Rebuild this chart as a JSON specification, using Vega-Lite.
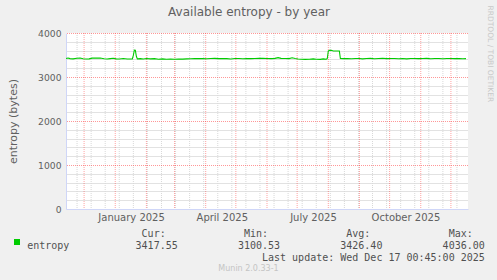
{
  "$schema": "https://vega.github.io/schema/vega-lite/v6.json",
  "width": 402,
  "height": 176,
  "autosize": {"type": "none"},
  "padding": {"left": 66, "top": 33, "right": 29, "bottom": 71},
  "background": "#f0f0f0",
  "config": {"view": {"stroke": null, "fill": "#ffffff"}},
  "title": {"text": "Munin 2.0.33-1", "orient": "bottom", "anchor": "middle", "frame": "group", "fontSize": 8, "font": "DejaVu Sans", "fontWeight": "normal", "color": "#c4c4c4", "dx": -18.5, "offset": 2},
  "datasets": {
    "series": [
      {"date": "2024-11-13", "value": 3422, "series": "entropy"},
      {"date": "2024-11-15", "value": 3432, "series": "entropy"},
      {"date": "2024-11-17", "value": 3418, "series": "entropy"},
      {"date": "2024-11-20", "value": 3412, "series": "entropy"},
      {"date": "2024-11-24", "value": 3426, "series": "entropy"},
      {"date": "2024-11-27", "value": 3430, "series": "entropy"},
      {"date": "2024-11-30", "value": 3414, "series": "entropy"},
      {"date": "2024-12-03", "value": 3410, "series": "entropy"},
      {"date": "2024-12-06", "value": 3412, "series": "entropy"},
      {"date": "2024-12-09", "value": 3428, "series": "entropy"},
      {"date": "2024-12-13", "value": 3430, "series": "entropy"},
      {"date": "2024-12-17", "value": 3430, "series": "entropy"},
      {"date": "2024-12-21", "value": 3414, "series": "entropy"},
      {"date": "2024-12-24", "value": 3410, "series": "entropy"},
      {"date": "2024-12-27", "value": 3418, "series": "entropy"},
      {"date": "2024-12-30", "value": 3426, "series": "entropy"},
      {"date": "2025-01-02", "value": 3412, "series": "entropy"},
      {"date": "2025-01-05", "value": 3410, "series": "entropy"},
      {"date": "2025-01-09", "value": 3420, "series": "entropy"},
      {"date": "2025-01-13", "value": 3408, "series": "entropy"},
      {"date": "2025-01-16", "value": 3408, "series": "entropy"},
      {"date": "2025-01-18", "value": 3410, "series": "entropy"},
      {"date": "2025-01-19", "value": 3490, "series": "entropy"},
      {"date": "2025-01-20", "value": 3612, "series": "entropy"},
      {"date": "2025-01-21", "value": 3608, "series": "entropy"},
      {"date": "2025-01-22", "value": 3470, "series": "entropy"},
      {"date": "2025-01-23", "value": 3412, "series": "entropy"},
      {"date": "2025-01-26", "value": 3418, "series": "entropy"},
      {"date": "2025-01-29", "value": 3408, "series": "entropy"},
      {"date": "2025-02-01", "value": 3420, "series": "entropy"},
      {"date": "2025-02-05", "value": 3412, "series": "entropy"},
      {"date": "2025-02-09", "value": 3418, "series": "entropy"},
      {"date": "2025-02-13", "value": 3405, "series": "entropy"},
      {"date": "2025-02-17", "value": 3412, "series": "entropy"},
      {"date": "2025-02-21", "value": 3404, "series": "entropy"},
      {"date": "2025-02-25", "value": 3410, "series": "entropy"},
      {"date": "2025-03-01", "value": 3402, "series": "entropy"},
      {"date": "2025-03-05", "value": 3410, "series": "entropy"},
      {"date": "2025-03-09", "value": 3406, "series": "entropy"},
      {"date": "2025-03-13", "value": 3412, "series": "entropy"},
      {"date": "2025-03-17", "value": 3416, "series": "entropy"},
      {"date": "2025-03-21", "value": 3420, "series": "entropy"},
      {"date": "2025-03-25", "value": 3418, "series": "entropy"},
      {"date": "2025-03-29", "value": 3422, "series": "entropy"},
      {"date": "2025-04-02", "value": 3416, "series": "entropy"},
      {"date": "2025-04-06", "value": 3420, "series": "entropy"},
      {"date": "2025-04-10", "value": 3424, "series": "entropy"},
      {"date": "2025-04-14", "value": 3418, "series": "entropy"},
      {"date": "2025-04-18", "value": 3420, "series": "entropy"},
      {"date": "2025-04-22", "value": 3418, "series": "entropy"},
      {"date": "2025-04-26", "value": 3410, "series": "entropy"},
      {"date": "2025-04-30", "value": 3420, "series": "entropy"},
      {"date": "2025-05-04", "value": 3422, "series": "entropy"},
      {"date": "2025-05-08", "value": 3416, "series": "entropy"},
      {"date": "2025-05-12", "value": 3422, "series": "entropy"},
      {"date": "2025-05-16", "value": 3418, "series": "entropy"},
      {"date": "2025-05-20", "value": 3422, "series": "entropy"},
      {"date": "2025-05-24", "value": 3424, "series": "entropy"},
      {"date": "2025-05-28", "value": 3426, "series": "entropy"},
      {"date": "2025-06-01", "value": 3420, "series": "entropy"},
      {"date": "2025-06-05", "value": 3418, "series": "entropy"},
      {"date": "2025-06-09", "value": 3424, "series": "entropy"},
      {"date": "2025-06-12", "value": 3440, "series": "entropy"},
      {"date": "2025-06-15", "value": 3424, "series": "entropy"},
      {"date": "2025-06-19", "value": 3420, "series": "entropy"},
      {"date": "2025-06-23", "value": 3418, "series": "entropy"},
      {"date": "2025-06-26", "value": 3436, "series": "entropy"},
      {"date": "2025-06-29", "value": 3422, "series": "entropy"},
      {"date": "2025-07-02", "value": 3410, "series": "entropy"},
      {"date": "2025-07-05", "value": 3402, "series": "entropy"},
      {"date": "2025-07-09", "value": 3400, "series": "entropy"},
      {"date": "2025-07-13", "value": 3404, "series": "entropy"},
      {"date": "2025-07-17", "value": 3412, "series": "entropy"},
      {"date": "2025-07-20", "value": 3402, "series": "entropy"},
      {"date": "2025-07-24", "value": 3400, "series": "entropy"},
      {"date": "2025-07-27", "value": 3412, "series": "entropy"},
      {"date": "2025-07-30", "value": 3404, "series": "entropy"},
      {"date": "2025-07-31", "value": 3420, "series": "entropy"},
      {"date": "2025-08-01", "value": 3590, "series": "entropy"},
      {"date": "2025-08-02", "value": 3608, "series": "entropy"},
      {"date": "2025-08-04", "value": 3606, "series": "entropy"},
      {"date": "2025-08-06", "value": 3592, "series": "entropy"},
      {"date": "2025-08-09", "value": 3590, "series": "entropy"},
      {"date": "2025-08-12", "value": 3592, "series": "entropy"},
      {"date": "2025-08-13", "value": 3420, "series": "entropy"},
      {"date": "2025-08-16", "value": 3418, "series": "entropy"},
      {"date": "2025-08-20", "value": 3420, "series": "entropy"},
      {"date": "2025-08-24", "value": 3416, "series": "entropy"},
      {"date": "2025-08-28", "value": 3422, "series": "entropy"},
      {"date": "2025-09-01", "value": 3420, "series": "entropy"},
      {"date": "2025-09-04", "value": 3412, "series": "entropy"},
      {"date": "2025-09-08", "value": 3420, "series": "entropy"},
      {"date": "2025-09-12", "value": 3424, "series": "entropy"},
      {"date": "2025-09-16", "value": 3414, "series": "entropy"},
      {"date": "2025-09-20", "value": 3420, "series": "entropy"},
      {"date": "2025-09-24", "value": 3426, "series": "entropy"},
      {"date": "2025-09-28", "value": 3418, "series": "entropy"},
      {"date": "2025-10-02", "value": 3420, "series": "entropy"},
      {"date": "2025-10-06", "value": 3422, "series": "entropy"},
      {"date": "2025-10-10", "value": 3416, "series": "entropy"},
      {"date": "2025-10-14", "value": 3420, "series": "entropy"},
      {"date": "2025-10-18", "value": 3412, "series": "entropy"},
      {"date": "2025-10-22", "value": 3420, "series": "entropy"},
      {"date": "2025-10-26", "value": 3422, "series": "entropy"},
      {"date": "2025-10-30", "value": 3418, "series": "entropy"},
      {"date": "2025-11-03", "value": 3420, "series": "entropy"},
      {"date": "2025-11-07", "value": 3424, "series": "entropy"},
      {"date": "2025-11-11", "value": 3416, "series": "entropy"},
      {"date": "2025-11-15", "value": 3420, "series": "entropy"},
      {"date": "2025-11-19", "value": 3422, "series": "entropy"},
      {"date": "2025-11-23", "value": 3414, "series": "entropy"},
      {"date": "2025-11-27", "value": 3420, "series": "entropy"},
      {"date": "2025-12-01", "value": 3422, "series": "entropy"},
      {"date": "2025-12-05", "value": 3418, "series": "entropy"},
      {"date": "2025-12-09", "value": 3420, "series": "entropy"},
      {"date": "2025-12-13", "value": 3416, "series": "entropy"},
      {"date": "2025-12-16", "value": 3418, "series": "entropy"}
    ],
    "biweeks": [
      {"date": "2024-11-24"}, {"date": "2024-12-08"}, {"date": "2024-12-22"}, {"date": "2025-01-05"},
      {"date": "2025-01-19"}, {"date": "2025-02-02"}, {"date": "2025-02-16"}, {"date": "2025-03-02"},
      {"date": "2025-03-16"}, {"date": "2025-03-30"}, {"date": "2025-04-13"}, {"date": "2025-04-27"},
      {"date": "2025-05-11"}, {"date": "2025-05-25"}, {"date": "2025-06-08"}, {"date": "2025-06-22"},
      {"date": "2025-07-06"}, {"date": "2025-07-20"}, {"date": "2025-08-03"}, {"date": "2025-08-17"},
      {"date": "2025-08-31"}, {"date": "2025-09-14"}, {"date": "2025-09-28"}, {"date": "2025-10-12"},
      {"date": "2025-10-26"}, {"date": "2025-11-09"}, {"date": "2025-11-23"}, {"date": "2025-12-07"}
    ],
    "months": [
      {"date": "2024-12-01"}, {"date": "2025-01-01"}, {"date": "2025-02-01"}, {"date": "2025-03-01"},
      {"date": "2025-04-01"}, {"date": "2025-05-01"}, {"date": "2025-06-01"}, {"date": "2025-07-01"},
      {"date": "2025-08-01"}, {"date": "2025-09-01"}, {"date": "2025-10-01"}, {"date": "2025-11-01"},
      {"date": "2025-12-01"}
    ],
    "majors": [{"v": 1000}, {"v": 2000}, {"v": 3000}, {"v": 4000}]
  },
  "resolve": {"axis": {"x": "independent", "y": "independent"}},
  "layer": [
    {
      "data": {"name": "biweeks"},
      "mark": {"type": "rule", "color": "#d8d8d8", "strokeWidth": 1, "strokeDash": [1, 1]},
      "encoding": {
        "x": {
          "field": "date", "type": "temporal",
          "scale": {"type": "utc", "domain": [{"year": 2024, "month": 11, "date": 13, "utc": true}, {"year": 2025, "month": 12, "date": 18, "utc": true}]},
          "axis": {"orient": "top", "labels": false, "ticks": false, "domain": false, "grid": false,
            "title": "Available entropy - by year", "titleFont": "DejaVu Sans", "titleFontSize": 12, "titleFontWeight": "normal", "titleColor": "#606060",
            "titleX": 182.5, "titleY": -27, "titleAlign": "center", "titleBaseline": "top", "titleAngle": 0}
        }
      }
    },
    {
      "data": {"name": "months"},
      "mark": {"type": "rule", "color": "#ff3030", "opacity": 0.45, "strokeWidth": 1, "strokeDash": [1, 1]},
      "encoding": {
        "x": {"field": "date", "type": "temporal", "axis": null}
      }
    },
    {
      "data": {"name": "majors"},
      "mark": {"type": "rule", "color": "#ff3030", "opacity": 0.5, "strokeWidth": 1, "strokeDash": [1, 1], "yOffset": 0.5},
      "encoding": {
        "y": {
          "field": "v", "type": "quantitative",
          "axis": {"orient": "right", "labels": false, "ticks": false, "domain": false, "grid": false,
            "title": "RRDTOOL / TOBI OETIKER", "titleFont": "DejaVu Sans", "titleFontSize": 7.5, "titleFontWeight": "normal", "titleColor": "#c8c8c8",
            "titleAngle": 90, "titleX": 21, "titleY": -28, "titleAlign": "left", "titleBaseline": "middle"}
        }
      }
    },
    {
      "data": {"name": "series"},
      "mark": {"type": "line", "strokeWidth": 1.1},
      "encoding": {
        "x": {
          "field": "date", "type": "temporal",
          "axis": {"orient": "bottom", "values": [
              {"year": 2025, "month": 1, "date": 16, "hours": 18, "utc": true},
              {"year": 2025, "month": 4, "date": 17, "utc": true},
              {"year": 2025, "month": 7, "date": 16, "hours": 18, "utc": true},
              {"year": 2025, "month": 10, "date": 16, "hours": 18, "utc": true}],
            "format": "%B %Y", "grid": false, "ticks": false, "tickSize": 0, "labelPadding": 3,
            "labelFont": "DejaVu Sans", "labelFontSize": 10, "labelColor": "#606060", "labelOverlap": false, "labelFlush": false,
            "domainColor": "#cfd6f8",
            "title": [
              "\u200b\u00a0\u00a0\u00a0\u00a0\u00a0\u00a0\u00a0\u00a0\u00a0\u00a0\u00a0\u00a0\u00a0\u00a0\u00a0\u00a0\u00a0\u00a0\u00a0Cur:\u00a0\u00a0\u00a0\u00a0\u00a0\u00a0\u00a0\u00a0\u00a0\u00a0\u00a0\u00a0\u00a0Min:\u00a0\u00a0\u00a0\u00a0\u00a0\u00a0\u00a0\u00a0\u00a0\u00a0\u00a0\u00a0\u00a0Avg:\u00a0\u00a0\u00a0\u00a0\u00a0\u00a0\u00a0\u00a0\u00a0\u00a0\u00a0\u00a0\u00a0Max:",
              "entropy\u00a0\u00a0\u00a0\u00a0\u00a0\u00a0\u00a0\u00a0\u00a0\u00a0\u00a03417.55\u00a0\u00a0\u00a0\u00a0\u00a0\u00a0\u00a0\u00a0\u00a0\u00a03100.53\u00a0\u00a0\u00a0\u00a0\u00a0\u00a0\u00a0\u00a0\u00a0\u00a03426.40\u00a0\u00a0\u00a0\u00a0\u00a0\u00a0\u00a0\u00a0\u00a0\u00a04036.00",
              "\u200b\u00a0\u00a0\u00a0\u00a0\u00a0\u00a0\u00a0\u00a0\u00a0\u00a0\u00a0\u00a0\u00a0\u00a0\u00a0\u00a0\u00a0\u00a0\u00a0\u00a0\u00a0\u00a0\u00a0\u00a0\u00a0\u00a0\u00a0\u00a0\u00a0\u00a0\u00a0\u00a0\u00a0\u00a0\u00a0\u00a0\u00a0\u00a0\u00a0Last\u00a0update:\u00a0Wed\u00a0Dec\u00a017\u00a000:45:00\u00a02025"
            ],
            "titleFont": "DejaVu Sans Mono", "titleFontSize": 10, "titleFontWeight": "normal", "titleColor": "#505050",
            "titleLineHeight": 12, "titleX": -39.3, "titleY": 19.5, "titleAlign": "left", "titleBaseline": "top", "titleAnchor": "start"}
        },
        "y": {
          "field": "value", "type": "quantitative",
          "scale": {"domain": [0, 4000], "nice": false},
          "axis": {"orient": "left", "values": [0, 200, 400, 600, 800, 1000, 1200, 1400, 1600, 1800, 2000, 2200, 2400, 2600, 2800, 3000, 3200, 3400, 3600, 3800, 4000],
            "format": "d", "labelExpr": "datum.value % 1000 === 0 ? datum.label : ''",
            "grid": true, "gridDash": [1, 1], "gridWidth": 1, "gridColor": "#c4c4c4",
            "gridOpacity": {"condition": {"test": "datum.value % 1000 === 0", "value": 0}, "value": 1},
            "ticks": false, "tickSize": 0, "labelPadding": 5,
            "labelFont": "DejaVu Sans", "labelFontSize": 9.2, "labelColor": "#606060",
            "domainColor": "#cfd6f8",
            "title": "entropy (bytes)", "titleFont": "DejaVu Sans", "titleFontSize": 11, "titleFontWeight": "normal", "titleColor": "#606060", "titlePadding": 19}
        },
        "color": {
          "field": "series", "type": "nominal",
          "scale": {"range": ["#00cc00"]},
          "legend": {"orient": "none", "legendX": -52, "legendY": 206, "title": null, "padding": 0,
            "symbolType": "square", "symbolSize": 36, "symbolFillColor": "#00cc00", "symbolStrokeWidth": 0,
            "labelExpr": "''", "labelFontSize": 1, "labelOffset": 0,
            "encode": {"symbols": {"update": {"fill": {"value": "#00cc00"}, "strokeWidth": {"value": 0}}}}}
        }
      }
    }
  ]
}
